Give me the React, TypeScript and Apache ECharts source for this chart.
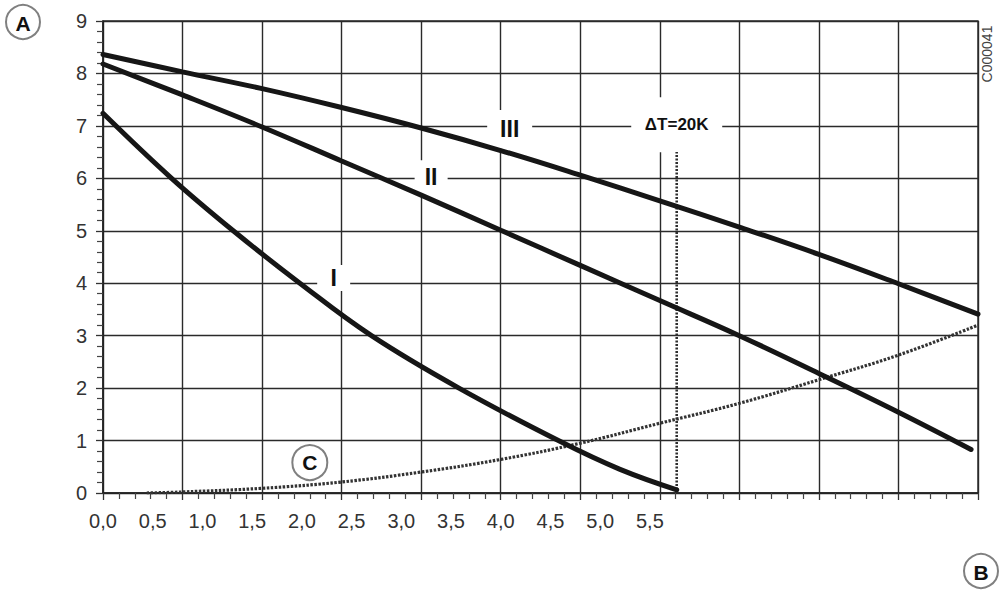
import React, { useEffect, useRef } from 'react'
import * as echarts from 'echarts'

// flow (x) / head (y) readings, one pair of arrays per curve
const curveIIIX = [0, 0.8, 1.6, 2.4, 3.2, 4.0, 4.8, 5.6, 6.4, 7.2, 8.0, 8.8]
const curveIIIY = [8.36, 8.03, 7.71, 7.35, 6.96, 6.53, 6.06, 5.57, 5.07, 4.55, 3.99, 3.41]

const curveIIX = [0, 0.8, 1.6, 2.4, 3.2, 4.0, 4.8, 5.6, 6.4, 7.2, 8.0, 8.73]
const curveIIY = [8.18, 7.59, 6.98, 6.33, 5.68, 5.01, 4.34, 3.67, 3.0, 2.28, 1.54, 0.83]

const curveIX = [0, 0.69, 1.31, 1.98, 2.7, 3.58, 4.6, 5.2, 5.77]
const curveIY = [7.24, 6, 5, 4, 3, 2, 0.98, 0.45, 0.06]

const curveCX = [0.44, 0.8, 1.6, 2.4, 3.2, 4.0, 4.8, 5.6, 6.4, 7.2, 8.0, 8.8]
const curveCY = [0, 0.02, 0.09, 0.21, 0.4, 0.64, 0.95, 1.33, 1.71, 2.16, 2.63, 3.2]

// ΔT=20K flow marker
const deltaTX = [5.77, 5.77]
const deltaTY = [0, 6.5]

// curve labels
const labelNames = ['III', 'II', 'I', '\u0394T=20K']
const labelX = [4.09, 3.3, 2.32, 5.77]
const labelY = [6.94, 6.02, 4.1, 7.02]

// axis ranges and tick labels
const xMax = 8.8
const gridStep = 0.8
const labelStep = 0.5
const lastXLabel = 5.5
const yMax = 9

const FONT = '"Liberation Sans", Arial, sans-serif'

const pairs = (xs: number[], ys: number[]) => xs.map((x, i) => [x, ys[i]])

const App: React.FC = () => {
  const chartRef = useRef<HTMLDivElement | null>(null)

  useEffect(() => {
    if (!chartRef.current) return
    const chart = echarts.init(chartRef.current, undefined, { renderer: 'svg' })

    const curveStyle = { color: '#161616', width: 5, cap: 'round' as const }

    const option: echarts.EChartsOption = {
      animation: false,
      backgroundColor: '#ffffff',
      textStyle: { fontFamily: FONT },
      grid: {
        left: 103,
        right: 25,
        top: 21,
        bottom: 97,
        show: true,
        borderColor: '#2a2a2a',
        borderWidth: 1.4
      },
      xAxis: [
        {
          type: 'value',
          min: 0,
          max: xMax,
          interval: gridStep,
          position: 'bottom',
          axisLine: { show: true, lineStyle: { color: '#222', width: 1.5 } },
          axisTick: { show: true, length: 7, lineStyle: { color: '#333', width: 1.3 } },
          minorTick: { show: true, splitNumber: 5, length: 6, lineStyle: { color: '#444', width: 1.2 } },
          splitLine: { show: true, lineStyle: { color: '#2a2a2a', width: 1.4 } },
          axisLabel: { show: false }
        },
        {
          type: 'value',
          min: 0,
          max: xMax,
          interval: labelStep,
          position: 'bottom',
          axisLine: { show: false },
          axisTick: { show: false },
          splitLine: { show: false },
          axisLabel: {
            show: true,
            margin: 18,
            fontSize: 20,
            color: '#333',
            fontFamily: FONT,
            showMaxLabel: false,
            formatter: (v: number) => (v <= lastXLabel + 0.001 ? v.toFixed(1).replace('.', ',') : '')
          }
        }
      ],
      yAxis: {
        type: 'value',
        min: 0,
        max: yMax,
        interval: 1,
        axisLine: { show: true, lineStyle: { color: '#222', width: 1.5 } },
        axisTick: { show: true, length: 7, lineStyle: { color: '#333', width: 1.3 } },
        minorTick: { show: true, splitNumber: 5, length: 6, lineStyle: { color: '#444', width: 1.2 } },
        splitLine: { show: true, lineStyle: { color: '#2a2a2a', width: 1.4 } },
        axisLabel: { margin: 16, fontSize: 20, color: '#333', fontFamily: FONT }
      },
      series: [
        {
          type: 'scatter',
          name: 'labels',
          xAxisIndex: 0,
          z: 2,
          silent: true,
          symbol: 'rect',
          data: labelNames.map((n, i) => ({
            name: n,
            value: [labelX[i], labelY[i]],
            symbolSize: i === 3 ? [91, 55] : i === 0 ? [45, 38] : i === 1 ? [33, 34] : [33, 26],
            label: {
              show: true,
              position: 'inside',
              formatter: n,
              color: '#111111',
              opacity: 1,
              textBorderWidth: 0,
              fontWeight: 'bold',
              fontFamily: FONT,
              fontSize: i === 3 ? 17 : 23
            }
          })),
          itemStyle: { color: '#ffffff', opacity: 1 }
        },
        {
          type: 'line',
          name: 'III',
          xAxisIndex: 0,
          z: 4,
          smooth: 0.4,
          symbol: 'none',
          lineStyle: curveStyle,
          data: pairs(curveIIIX, curveIIIY)
        },
        {
          type: 'line',
          name: 'II',
          xAxisIndex: 0,
          z: 4,
          smooth: 0.4,
          symbol: 'none',
          lineStyle: curveStyle,
          data: pairs(curveIIX, curveIIY)
        },
        {
          type: 'line',
          name: 'I',
          xAxisIndex: 0,
          z: 4,
          smooth: 0.4,
          symbol: 'none',
          lineStyle: curveStyle,
          data: pairs(curveIX, curveIY)
        },
        {
          type: 'line',
          name: 'C',
          xAxisIndex: 0,
          z: 3,
          smooth: 0.4,
          symbol: 'none',
          lineStyle: { color: '#333', width: 3.2, type: [2.5, 1.5] },
          data: pairs(curveCX, curveCY)
        },
        {
          type: 'line',
          name: 'deltaT',
          xAxisIndex: 0,
          z: 3,
          symbol: 'none',
          lineStyle: { color: '#2e2e2e', width: 2.6, type: [2, 1.5] },
          data: pairs(deltaTX, deltaTY)
        },
        {
          type: 'scatter',
          name: 'C marker',
          xAxisIndex: 0,
          z: 5,
          silent: true,
          symbol: 'circle',
          symbolSize: 35,
          itemStyle: { color: '#ffffff', borderColor: '#808080', borderWidth: 2, opacity: 1 },
          label: {
            show: true,
            position: 'inside',
            formatter: 'C',
            color: '#111111',
            opacity: 1,
            textBorderWidth: 0,
            fontWeight: 'bold',
            fontSize: 21,
            fontFamily: FONT
          },
          data: [[2.08, 0.58]]
        }
      ],
      graphic: [
        {
          type: 'group',
          left: 5,
          top: 4,
          children: [
            { type: 'circle', shape: { cx: 18, cy: 18, r: 17 }, style: { fill: '#fff', stroke: '#808080', lineWidth: 2 } },
            {
              type: 'text',
              x: 18,
              y: 19,
              style: { text: 'A', fill: '#111', font: `bold 21px ${FONT}`, align: 'center', verticalAlign: 'middle' }
            }
          ]
        },
        {
          type: 'group',
          left: 963,
          top: 553,
          children: [
            { type: 'circle', shape: { cx: 18, cy: 18, r: 17 }, style: { fill: '#fff', stroke: '#808080', lineWidth: 2 } },
            {
              type: 'text',
              x: 18,
              y: 19,
              style: { text: 'B', fill: '#111', font: `bold 21px ${FONT}`, align: 'center', verticalAlign: 'middle' }
            }
          ]
        },
        {
          type: 'text',
          x: 987,
          y: 54,
          rotation: Math.PI / 2,
          style: { text: 'C000041', fill: '#444', font: `14px ${FONT}`, align: 'center', verticalAlign: 'middle' }
        }
      ]
    }

    chart.setOption(option)
    return () => {
      chart.dispose()
    }
  }, [])

  return <div ref={chartRef} style={{ position: 'fixed', left: 0, top: 0, width: 1003, height: 590 }} />
}

export default App
